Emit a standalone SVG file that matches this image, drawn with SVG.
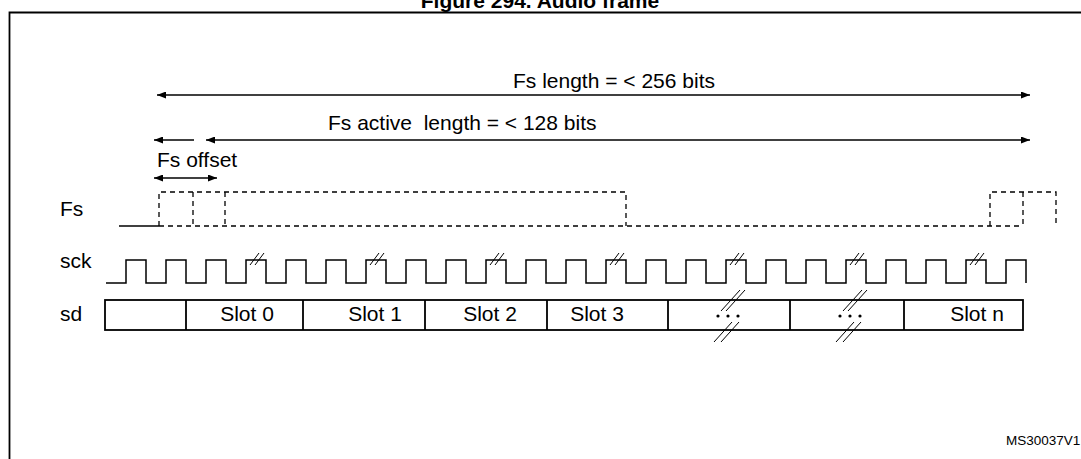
<svg xmlns="http://www.w3.org/2000/svg" width="1081" height="459" viewBox="0 0 1081 459">
<style>
text{font-family:"Liberation Sans",Arial,sans-serif;fill:#000}
.lbl{font-size:21px}
.ttl{font-size:21px;font-weight:bold}
.id{font-size:13.5px}
.solid{fill:none;stroke:#000;stroke-width:1.5}
.dash{fill:none;stroke:#000;stroke-width:1.3;stroke-dasharray:5 4}
.box{fill:none;stroke:#000;stroke-width:1.8}
.brk{fill:none;stroke:#000;stroke-width:1}
.arr{stroke:#000;stroke-width:1.5;fill:none}
</style>
<defs>
<marker id="ah" markerUnits="userSpaceOnUse" markerWidth="9" markerHeight="7" refX="9" refY="3.5" orient="auto-start-reverse">
<path d="M0,0 L9,3.5 L0,7 z" fill="#000"/>
</marker>
</defs>
<rect width="1081" height="459" fill="#fff"/>
<g id="frame">
<text class="ttl" x="540" y="7.5" text-anchor="middle">Figure 294. Audio frame</text>
<path class="box" d="M1081,12.5 H9.5 V459"/>
<text class="id" x="1006" y="445">MS30037V1</text>
</g>
<g id="labels">
<text class="lbl" x="513" y="88">Fs length = &lt; 256 bits</text>
<text class="lbl" x="328" y="130" xml:space="preserve">Fs active  length = &lt; 128 bits</text>
<text class="lbl" x="157" y="167">Fs offset</text>
<text class="lbl" x="60" y="216">Fs</text>
<text class="lbl" x="60" y="268">sck</text>
<text class="lbl" x="60" y="321">sd</text>
</g>
<g id="connectors">
<line class="arr" x1="157" y1="95" x2="1030" y2="95" marker-start="url(#ah)" marker-end="url(#ah)"/>
<line class="arr" x1="154" y1="140" x2="194" y2="140" marker-start="url(#ah)"/>
<line class="arr" x1="206" y1="140" x2="1030" y2="140" marker-start="url(#ah)" marker-end="url(#ah)"/>
<line class="arr" x1="154" y1="178" x2="217" y2="178" marker-start="url(#ah)" marker-end="url(#ah)"/>
</g>
<g id="fs-signal">
<line class="solid" x1="119" y1="226" x2="159" y2="226"/>
<path class="dash" d="M159,226 V192 H626 V226"/>
<path class="dash" d="M159,226 H1023"/>
<path class="dash" d="M193,192 V226 M225,192 V226"/>
<path class="dash" d="M990,226 V192 H1056 V226"/>
<path class="dash" d="M1023,192 V226"/>
</g>
<g id="sck-signal">
<path class="solid" d="M106,283 H126 V260 H146 V283 H166 V260 H186 V283 H206 V260 H226 V283 H246 V260 H266 V283 H286 V260 H306 V283 H326 V260 H346 V283 H366 V260 H386 V283 H406 V260 H426 V283 H446 V260 H466 V283 H486 V260 H506 V283 H526 V260 H546 V283 H566 V260 H586 V283 H606 V260 H626 V283 H646 V260 H666 V283 H686 V260 H706 V283 H726 V260 H746 V283 H766 V260 H786 V283 H806 V260 H826 V283 H846 V260 H866 V283 H886 V260 H906 V283 H926 V260 H946 V283 H966 V260 H986 V283 H1006 V260 H1026 V283"/>
<path class="brk" d="M250,265 L259,253 M255,265 L264,253 M370,265 L379,253 M375,265 L384,253 M490,265 L499,253 M495,265 L504,253 M610,265 L619,253 M615,265 L624,253 M730,265 L739,253 M735,265 L744,253 M850,265 L859,253 M855,265 L864,253 M970,265 L979,253 M975,265 L984,253"/>
</g>
<g id="sd-slots">
<rect class="box" x="105" y="300" width="918" height="30"/>
<path class="box" d="M186,300 V330 M303,300 V330 M425,300 V330 M547,300 V330 M668,300 V330 M790,300 V330 M904,300 V330"/>
<text class="lbl" x="247" y="321" text-anchor="middle">Slot 0</text>
<text class="lbl" x="375" y="321" text-anchor="middle">Slot 1</text>
<text class="lbl" x="490" y="321" text-anchor="middle">Slot 2</text>
<text class="lbl" x="597" y="321" text-anchor="middle">Slot 3</text>
<text class="lbl" x="977" y="321" text-anchor="middle">Slot n</text>
<g id="gap1">
<circle cx="718" cy="316" r="1.6"/><circle cx="728" cy="316" r="1.6"/><circle cx="738" cy="316" r="1.6"/>
<path class="brk" d="M721,311 L740,290 M726,311 L745,290 M714,342 L732,322 M721,342 L739,322"/>
</g>
<g id="gap2">
<circle cx="840" cy="316" r="1.6"/><circle cx="850" cy="316" r="1.6"/><circle cx="860" cy="316" r="1.6"/>
<path class="brk" d="M843,311 L862,290 M848,311 L867,290 M836,342 L854,322 M843,342 L861,322"/>
</g>
</g>
</svg>
